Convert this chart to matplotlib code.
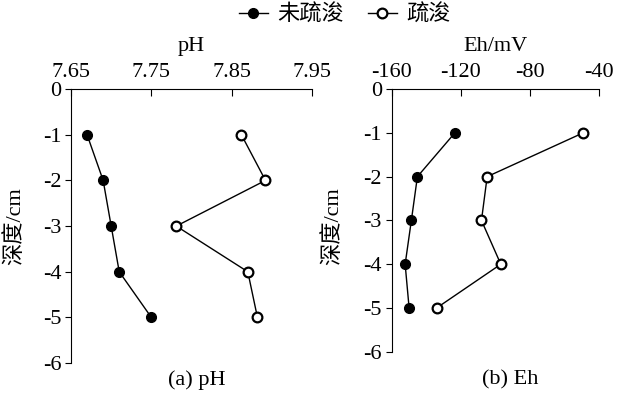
import matplotlib.pyplot as plt
from matplotlib.lines import Line2D

plt.rcParams['font.family'] = ['Liberation Serif', 'Noto Sans CJK SC']
plt.rcParams['font.size'] = 16
plt.rcParams['axes.unicode_minus'] = False

depth = [-1, -2, -3, -4, -5]
ph_undredged = [7.67, 7.69, 7.70, 7.71, 7.75]
ph_dredged = [7.862, 7.892, 7.781, 7.870, 7.882]
eh_undredged = [-123.3, -145.0, -148.5, -152.1, -149.8]
eh_dredged = [-49.0, -104.6, -107.9, -96.7, -133.9]

ph_ticks = [7.65, 7.75, 7.85, 7.95]
eh_ticks = [-160, -120, -80, -40]
y_ticks = [0, -1, -2, -3, -4, -5, -6]

fig = plt.figure(figsize=(6.18, 4.03), dpi=100)
ax1 = fig.add_axes([0.1149, 0.099, 0.3901, 0.680])
ax2 = fig.add_axes([0.6335, 0.127, 0.3353, 0.652])

filled = dict(color='black', marker='o', markersize=7, linewidth=1,
              markerfacecolor='black')
hollow = dict(color='black', marker='o', markersize=7, linewidth=1,
              markerfacecolor='white', markeredgewidth=1.6)


def style(ax, xlim, xticks, xlabel):
    ax.set_xlim(*xlim)
    ax.set_ylim(-6, 0)
    ax.set_xticks(xticks)
    ax.set_xticklabels([str(t) for t in xticks])
    ax.set_yticks(y_ticks)
    ax.xaxis.tick_top()
    ax.xaxis.set_label_position('top')
    ax.set_xlabel(xlabel, labelpad=9)
    ax.set_ylabel('深度/cm')
    ax.spines['right'].set_visible(False)
    ax.spines['bottom'].set_visible(False)
    ax.tick_params(axis='x', direction='in', length=5, pad=5)
    ax.tick_params(axis='y', direction='out', length=4, pad=3)


ax1.plot(ph_undredged, depth, **filled)
ax1.plot(ph_dredged, depth, **hollow)
style(ax1, (7.65, 7.95), ph_ticks, 'pH')

ax2.plot(eh_undredged, depth, **filled)
ax2.plot(eh_dredged, depth, **hollow)
style(ax2, (-160, -40), eh_ticks, 'Eh/mV')
ax1.yaxis.set_label_coords(-0.19, 0.5)
ax2.yaxis.set_label_coords(-0.234, 0.479)

fig.text(197 / 618, 1 - 380 / 403, '(a) pH', ha='center', va='center')
fig.text(510 / 618, 1 - 380 / 403, '(b) Eh', ha='center', va='center')

handles = [Line2D([], [], **filled), Line2D([], [], **hollow)]
fig.legend(handles, ['未疏浚', '疏浚'], loc='center', ncol=2, frameon=False,
           bbox_to_anchor=(345 / 618, 1 - 15 / 403), handlelength=1.3,
           handletextpad=0.45, columnspacing=1.05)

fig.savefig('out.png', dpi=100)
